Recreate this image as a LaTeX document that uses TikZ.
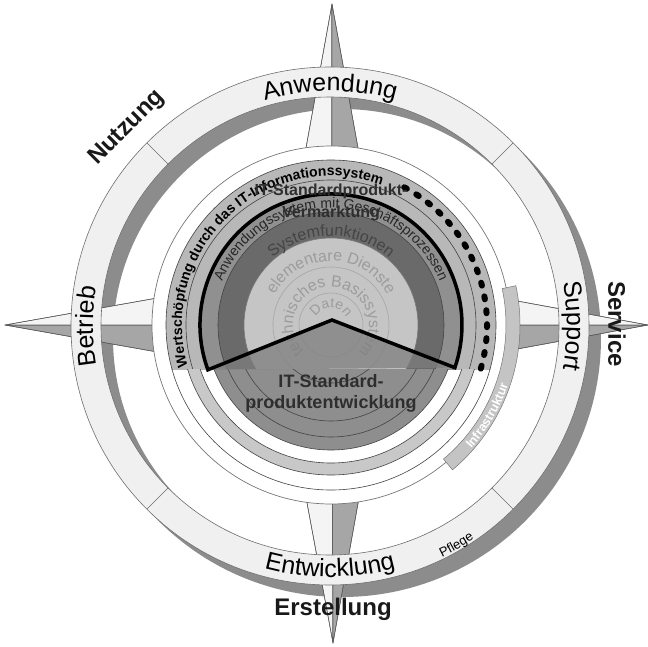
\documentclass[tikz,border=0pt]{standalone}
\usepackage{fontspec}
\setmainfont{Liberation Sans}
\usetikzlibrary{decorations.text}
\definecolor{armL}{HTML}{F4F4F4}
\definecolor{armG}{HTML}{A6A6A6}
\definecolor{armD}{HTML}{5A5A5A}
\definecolor{shadowc}{HTML}{8C8C8C}
\definecolor{ringfill}{HTML}{F0F0F0}
\definecolor{ringline}{HTML}{6E6E6E}
\definecolor{infra}{HTML}{C4C4C4}
\definecolor{uA}{HTML}{B8B8B8}
\definecolor{uB}{HTML}{909090}
\definecolor{uC}{HTML}{6A6A6A}
\definecolor{uD}{HTML}{C5C5C5}
\definecolor{lA}{HTML}{8E8E8E}
\definecolor{lband}{HTML}{C8C8C8}
\definecolor{notchc}{HTML}{7E7E7E}
\definecolor{titlec}{HTML}{2E2E2E}
\definecolor{cdark}{HTML}{444444}
\definecolor{cmid}{HTML}{777777}
\definecolor{clight}{HTML}{A5A5A5}
\definecolor{celem}{HTML}{9C9C9C}
\newcommand\fbig{\fontsize{25}{30}\selectfont}
\newcommand\fsmall{\fontsize{13}{15}\selectfont}
\newcommand\fwert{\fontsize{14}{16}\selectfont\bfseries}
\newcommand\fanw{\fontsize{14}{16}\selectfont}
\newcommand\fsys{\fontsize{16}{18}\selectfont}
\newcommand\finf{\fontsize{12.5}{14}\selectfont\bfseries}
\tikzset{
  armlight/.style={fill=armL, draw=armD, line width=0.5pt, line join=round},
  armdark/.style={fill=armG, draw=armD, line width=0.5pt, line join=round},
  outerlabel/.style={font=\fontsize{24}{28}\selectfont\bfseries, text=black!90, inner sep=0pt},
  titleA/.style={font=\fontsize{16}{18}\selectfont\bfseries, text=titlec, inner sep=0pt},
  titleB/.style={font=\fontsize{18}{20}\selectfont\bfseries, text=titlec, inner sep=0pt},
  thinring/.style={line width=0.6pt}
}
\begin{document}
\begin{tikzpicture}[x=1pt,y=1pt]
\useasboundingbox (-330,-320) rectangle (318,326);
\fill[white] (-330,-320) rectangle (318,326);

% ring shadow
\fill[shadowc, even odd rule] (12,-12) circle (259) (12,-12) circle (229);

% compass star
\fill[armlight] (2,322) -- (-56,1) -- (2,1) -- cycle;
\fill[armdark]  (2,322) -- (2,1) -- (60,1) -- cycle;
\fill[armlight] (3,-317) -- (-56,1) -- (2,1) -- cycle;
\fill[armdark]  (3,-317) -- (2,1) -- (60,1) -- cycle;
\fill[armlight] (-325,1) -- (2,59) -- (2,1) -- cycle;
\fill[armdark]  (-325,1) -- (2,1) -- (2,-57) -- cycle;
\fill[armlight] (318,1) -- (2,59) -- (2,1) -- cycle;
\fill[armdark]  (318,1) -- (2,1) -- (2,-57) -- cycle;
\draw[armD, line width=0.5pt] (2,322) -- (-56,1) (2,322) -- (60,1) (2,322) -- (2,1)
  (3,-317) -- (-56,1) (3,-317) -- (60,1) (3,-317) -- (2,1)
  (-325,1) -- (2,59) (-325,1) -- (2,-57) (-325,1) -- (2,1)
  (318,1) -- (2,59) (318,1) -- (2,-57) (318,1) -- (2,1);

% outer ring
\filldraw[fill=ringfill, draw=ringline, even odd rule, line width=0.6pt] (0,0) circle (259) (0,0) circle (229);
\foreach \a in {45,135,225,315} \draw[ringline, line width=0.6pt] (\a:229) -- (\a:259);

% ring texts
\path[decorate, decoration={text along path, text align=center, text={|\fbig|Anwendung}}]
  (140:235) arc[start angle=140, end angle=40, radius=235];
\path[decorate, decoration={text along path, text align=center, text={|\fbig|Betrieb}}]
  (230:237) arc[start angle=230, end angle=130, radius=237];
\path[decorate, decoration={text along path, text align=center, text={|\fbig|Support}}]
  (50:237) arc[start angle=50, end angle=-50, radius=237];
\path[decorate, decoration={text along path, text align=center, text={|\fbig|Entwicklung}}]
  (-140:251) arc[start angle=-140, end angle=-40, radius=251];
\path[decorate, decoration={text along path, text align=center, text={|\fsmall|Pflege}}]
  (-90:257) arc[start angle=-90, end angle=-30, radius=257];

% outer labels
\node[outerlabel, rotate=45] (nutz) at (-203,198) {Nutzung};
\node[outerlabel, rotate=-90] (serv) at (287,2) {Service};
\node[outerlabel] (erst) at (3,-283) {Erstellung};

% inner part
\begin{scope}[shift={(1,1)}]
  \filldraw[fill=white, draw=cmid, line width=0.7pt] (0,0) circle (179);
  \filldraw[fill=infra, draw=cmid, line width=0.5pt]
    (12:175) arc[start angle=12, end angle=-50, radius=175] -- (-50:189)
    arc[start angle=-50, end angle=12, radius=189] -- cycle;
  \path[decorate, decoration={text along path, text align=center, text color=white, text={|\finf|Infrastruktur}}]
    (-70:187) arc[start angle=-70, end angle=10, radius=187];

  % upper half
  \begin{scope}
    \clip (-200,-44) rectangle (200,200);
    \filldraw[fill=uA, draw=cdark, thinring] (0,0) circle (165);
    \draw[cdark, thinring] (0,0) circle (145);
    \filldraw[fill=uB, draw=cdark, thinring] (0,0) circle (130);
    \filldraw[fill=uC, draw=cdark, thinring] (0,0) circle (113);
    \filldraw[fill=uD, draw=cmid, thinring] (0,0) circle (87);
    \draw[clight, thinring] (0,0) circle (58) (0,0) circle (32);
  \end{scope}
  % lower half
  \begin{scope}
    \clip (-200,-44) rectangle (200,-200);
    \filldraw[fill=lband, draw=cdark, thinring, even odd rule] (0,0) circle (150) (0,0) circle (138);
    \draw[cdark, thinring] (0,0) circle (165);
    \filldraw[fill=lA, draw=cdark, thinring] (0,0) circle (125);
    \draw[cdark, thinring] (0,0) circle (112) (0,0) circle (96) (0,0) circle (58) (0,0) circle (32);
  \end{scope}

  % curved inner texts
  \path[decorate, decoration={text along path, text align=center, text color=celem, text={|\fsys|elementare Dienste}}]
    (170:64) arc[start angle=170, end angle=10, radius=64];
  \path[decorate, decoration={text along path, text align=center, text color=celem, text={|\fsys|technisches Basissystem}}]
    (265:38) arc[start angle=265, end angle=-85, radius=38];
  \path[decorate, decoration={text along path, text align=center, text color=celem, text={|\fanw|Daten}}]
    (210:17) arc[start angle=210, end angle=-30, radius=17];

  % notch and chevron outline
  \fill[notchc, opacity=0.75] (200:131) -- (1,5) -- (-19:131) -- cycle;
  \draw[black, line width=3.5pt, line join=miter]
    (200:131) arc[start angle=200, end angle=-19, radius=131] -- (1,5) -- cycle;

  \path[decorate, decoration={text along path, text align=center, text color=cdark, text={|\fsys|Systemfunktionen}}]
    (160:89) arc[start angle=160, end angle=20, radius=89];
  \path[decorate, decoration={text along path, text align=center, text color=black!85, text={|\fanw|Anwendungssystem mit Geschäftsprozessen}}]
    (175:117) arc[start angle=175, end angle=5, radius=117];
  \path[decorate, decoration={text along path, text align=left, text color=black, text={|\fwert|Wertschöpfung durch das IT-Informationssystem}}]
    (196:149) arc[start angle=196, end angle=30, radius=149];
  \draw[black, line width=6pt, dash pattern=on 3pt off 11pt, line cap=round]
    (62:156) arc[start angle=62, end angle=-17, radius=156];

  \node[titleA] (t1) at (0,134) {IT-Standardprodukt-};
  \node[titleA] (t2) at (0,112) {Vermarktung};
  \node[titleB] (t3) at (0,-56) {IT-Standard-};
  \node[titleB] (t4) at (0,-79) {produktentwicklung};
\end{scope}
\end{tikzpicture}
\end{document}
